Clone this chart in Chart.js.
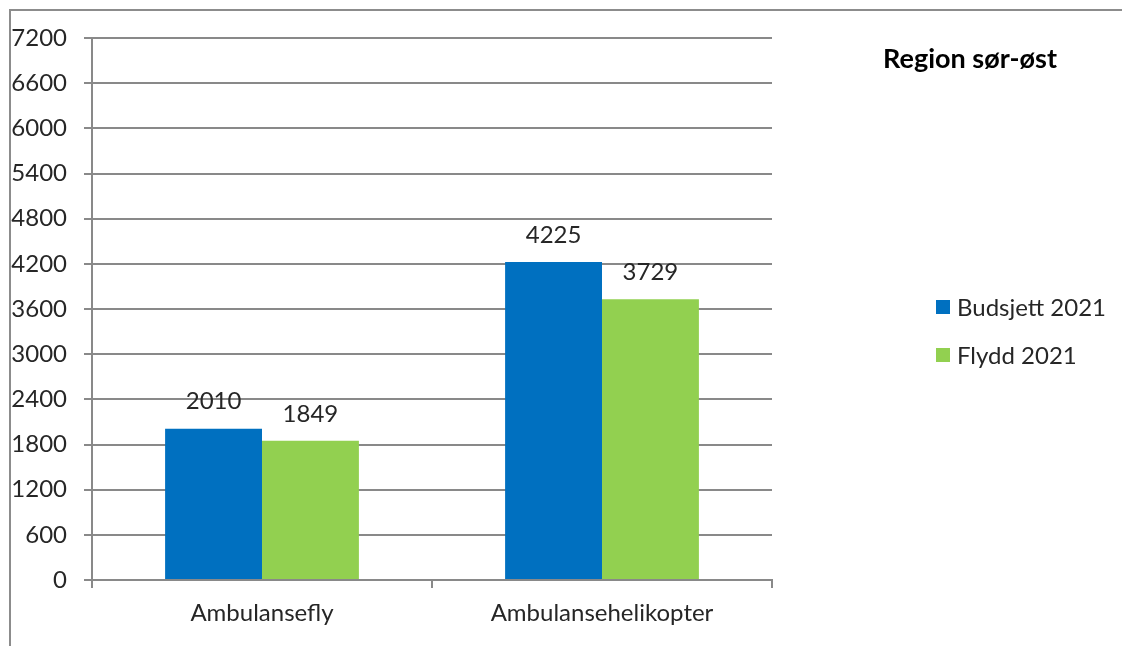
<!DOCTYPE html>
<html>
<head>
<meta charset="utf-8">
<script src="https://cdn.jsdelivr.net/npm/chart.js@4/dist/chart.umd.min.js"></script>
<style>
  html, body { margin:0; padding:0; background:#fff; }
  #wrap { position:relative; width:1122px; height:646px; }
  #frame { position:absolute; left:9px; top:9px; right:0; bottom:-4px;
           border-left:2px solid #8c8c8c; border-top:2px solid #8c8c8c; }
  canvas { position:absolute; left:0; top:0; }
</style>
</head>
<body>
<div id="wrap">
  <div id="frame"></div>
  <canvas id="myChart" width="1122" height="646"></canvas>
</div>
<script>
const categories = ['Ambulansefly', 'Ambulansehelikopter']
const budsjett = [2010, 4225]
const flydd = [1849, 3729]
const seriesNames = ['Budsjett 2021', 'Flydd 2021']
const chartTitle = 'Region sør-øst'

const FONT = 'Lato, Carlito, "Open Sans", sans-serif'
const TXT = '#262626'
const GRID = '#898989'

// value labels, title and legend
const overlay = {
  id: 'overlay',
  afterDatasetsDraw(chart) {
    const ctx = chart.ctx
    ctx.save()
    ctx.font = '24px ' + FONT
    ctx.fillStyle = TXT
    ctx.textAlign = 'center'
    ctx.textBaseline = 'middle'
    chart.data.datasets.forEach((ds, i) => {
      chart.getDatasetMeta(i).data.forEach((bar, j) => {
        ctx.fillText(ds.data[j], bar.x, bar.y - 27)
      })
    })
    ctx.restore()
  },
  afterDraw(chart) {
    const ctx = chart.ctx
    ctx.save()
    ctx.fillStyle = '#000'
    ctx.font = 'bold 27px ' + FONT
    ctx.textAlign = 'center'
    ctx.textBaseline = 'middle'
    ctx.fillText(chartTitle, 970, 59)

    ctx.font = '24px ' + FONT
    ctx.textAlign = 'left'
    chart.data.datasets.forEach((ds, i) => {
      const y = 307 + i * 48
      ctx.fillStyle = ds.backgroundColor
      ctx.fillRect(936, y - 7, 14, 14)
      ctx.fillStyle = TXT
      ctx.fillText(ds.label, 957, y + 1)
    })
    ctx.restore()
  }
}

const data = {
  labels: categories,
  datasets: [
    { label: seriesNames[0], data: budsjett, backgroundColor: '#0070C0' },
    { label: seriesNames[1], data: flydd, backgroundColor: '#92D050' }
  ]
}

const config = {
  type: 'bar',
  data: data,
  options: {
    responsive: false,
    animation: false,
    layout: { padding: { left: 0, top: 38, right: 350, bottom: 0 } },
    datasets: { bar: { categoryPercentage: 0.57, barPercentage: 1.0 } },
    plugins: { legend: { display: false }, tooltip: { enabled: false } },
    scales: {
      y: {
        min: 0, max: 7200,
        afterFit: (s) => { s.width = 92 },
        ticks: { stepSize: 600, color: TXT, padding: 17, font: { family: FONT, size: 24 },
                 callback: (v) => String(v) },
        grid: { color: GRID, lineWidth: 2, tickLength: 8 },
        border: { color: GRID, width: 2 }
      },
      x: {
        afterFit: (s) => { s.height = 66 },
        ticks: { color: TXT, padding: 11, font: { family: FONT, size: 24 } },
        grid: { drawOnChartArea: false, color: GRID, lineWidth: 2, tickLength: 8 },
        border: { color: GRID, width: 2 }
      }
    }
  },
  plugins: [overlay]
}

const myChart = new Chart(document.getElementById('myChart'), config)
</script>
</body>
</html>
